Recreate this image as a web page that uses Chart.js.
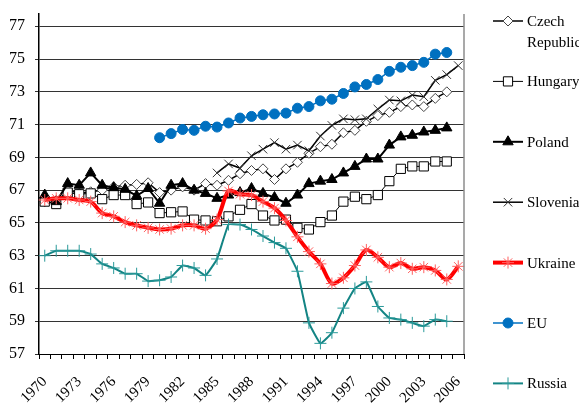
<!DOCTYPE html>
<html>
<head>
<meta charset="utf-8">
<script src="https://cdn.jsdelivr.net/npm/chart.js@4"></script>
<style>
  html, body { margin: 0; padding: 0; background: #fff; }
</style>
</head>
<body>
<canvas id="LifeChart" width="579" height="408"></canvas>
<script>
// categories
const years = [
  "1970", "1971", "1972", "1973", "1974", "1975", "1976", "1977", "1978", "1979",
  "1980", "1981", "1982", "1983", "1984", "1985", "1986", "1987", "1988", "1989",
  "1990", "1991", "1992", "1993", "1994", "1995", "1996", "1997", "1998", "1999",
  "2000", "2001", "2002", "2003", "2004", "2005", "2006"
];
const yTicks = [57, 59, 61, 63, 65, 67, 69, 71, 73, 75, 77];

// series values (null = no data)
const czech = [66.3, 66.2, 67.0, 66.8, 66.9, 67.0, 67.2, 67.3, 67.35, 67.45,
  66.85, 67.0, 67.2, 67.0, 67.4, 67.3, 67.6, 68.0, 68.2, 68.3,
  67.65, 68.3, 68.7, 69.25, 69.65, 69.8, 70.5, 70.65, 71.2, 71.55,
  71.75, 72.1, 72.2, 72.1, 72.6, 73.0, null];
const hungary = [66.3, 66.15, 66.85, 66.75, 66.8, 66.45, 66.7, 66.7, 66.15, 66.25,
  65.6, 65.65, 65.7, 65.2, 65.15, 65.1, 65.4, 65.8, 66.15, 65.45,
  65.15, 65.2, 64.7, 64.6, 65.05, 65.45, 66.3, 66.6, 66.45, 66.7,
  67.55, 68.3, 68.45, 68.45, 68.75, 68.75, null];
const poland = [66.7, 66.3, 67.4, 67.3, 68.05, 67.3, 67.15, 67.05, 66.65, 67.1,
  66.2, 67.3, 67.4, 67.0, 66.8, 66.5, 66.7, 66.85, 67.1, 66.8,
  66.55, 66.2, 66.7, 67.4, 67.55, 67.65, 68.05, 68.45, 68.9, 68.9,
  69.75, 70.25, 70.35, 70.55, 70.65, 70.8, null];
const slovenia = [null, null, null, null, null, null, null, null, null, null,
  null, null, null, null, null, 68.05, 68.6, 68.35, 69.1, 69.5,
  69.9, 69.5, 69.75, 69.4, 70.3, 70.95, 71.35, 71.3, 71.35, 71.95,
  72.5, 72.45, 72.8, 72.7, 73.7, 74.05, 74.6];
const ukraine = [66.4, 66.5, 66.5, 66.4, 66.3, 65.6, 65.4, 65.05, 64.85, 64.7,
  64.6, 64.65, 64.85, 64.85, 64.65, 65.2, 66.95, 66.75, 66.7, 66.3,
  65.9, 65.15, 64.15, 63.25, 62.5, 61.3, 61.65, 62.4, 63.35, 62.9,
  62.3, 62.55, 62.2, 62.3, 62.1, 61.55, 62.35];
const eu = [null, null, null, null, null, null, null, null, null, null,
  70.2, 70.45, 70.7, 70.65, 70.9, 70.85, 71.1, 71.4, 71.5, 71.6,
  71.65, 71.7, 72.0, 72.1, 72.45, 72.55, 72.9, 73.3, 73.45, 73.75,
  74.25, 74.5, 74.6, 74.8, 75.3, 75.4, null];
const russia = [63.0, 63.3, 63.3, 63.3, 63.1, 62.5, 62.25, 61.9, 61.9, 61.45,
  61.5, 61.7, 62.4, 62.25, 61.8, 62.8, 64.9, 64.9, 64.6, 64.2,
  63.8, 63.45, 62.05, 58.9, 57.65, 58.3, 59.8, 61.0, 61.4, 59.9,
  59.2, 59.1, 58.9, 58.7, 59.1, 59.0, null];

const serif = "'Liberation Serif', 'Times New Roman', serif";

function series(label, data, color, width, style, radius, fill, pointColor, tension, order) {
  return {
    label: label,
    data: data,
    borderColor: color,
    borderWidth: width,
    pointStyle: style,
    pointRadius: radius,
    pointBackgroundColor: fill,
    pointBorderColor: pointColor,
    pointBorderWidth: 1,
    tension: tension,
    spanGaps: false,
    fill: false,
    order: order,
    legendText: Array.isArray(label) ? label : [label]
  };
}

const datasets = [
  series(["Czech", "Republic"], czech, "#000", 1.5, "rectRot", 5, "#fff", "#444", 0, 7),
  series("Hungary", hungary, "#000", 1, "rect", 6.5, "#fff", "#000", 0, 6),
  series("Poland", poland, "#000", 2, "triangle", 6, "#000", "#000", 0, 5),
  series("Slovenia", slovenia, "#000", 1.5, "crossRot", 6, "#000", "#333", 0, 4),
  series("Ukraine", ukraine, "#ff0000", 4, "star", 6, "#ff6060", "#ff6060", 0.3, 3),
  series("EU", eu, "#0070c0", 1.5, "circle", 5, "#0070c0", "#0070c0", 0, 2),
  series("Russia", russia, "#138484", 2, "cross", 6, "#2a9a9a", "#2a9a9a", 0.1, 1)
];

// side legend: line sample + marker + text
const sideLegend = {
  id: 'sideLegend',
  afterDraw(chart) {
    const ctx = chart.ctx;
    const area = chart.chartArea;
    ctx.save();
    // right border of plot
    ctx.strokeStyle = '#8c8c8c';
    ctx.lineWidth = 1.5;
    ctx.beginPath();
    ctx.moveTo(area.right, area.top);
    ctx.lineTo(area.right, area.bottom);
    ctx.stroke();

    const x0 = area.right + 29;
    const x1 = x0 + 30;
    datasets.forEach((ds, i) => {
      const y = 21 + i * 60.4;
      ctx.strokeStyle = ds.borderColor;
      ctx.lineWidth = ds.borderWidth;
      ctx.beginPath();
      ctx.moveTo(x0, y);
      ctx.lineTo(x1, y);
      ctx.stroke();
      ctx.fillStyle = ds.pointBackgroundColor;
      ctx.strokeStyle = ds.pointBorderColor;
      ctx.lineWidth = 1;
      Chart.helpers.drawPoint(ctx, {
        pointStyle: ds.pointStyle,
        radius: ds.pointRadius,
        rotation: 0,
        borderWidth: 1
      }, (x0 + x1) / 2, y);
      ctx.fillStyle = '#000';
      ctx.font = "15px " + serif;
      ctx.textAlign = 'left';
      ctx.textBaseline = 'middle';
      ds.legendText.forEach((t, k) => ctx.fillText(t, x1 + 4, y + 1 + k * 21));
    });
    ctx.restore();
  }
};

new Chart(document.getElementById('LifeChart').getContext('2d'), {
  type: 'line',
  data: { labels: years, datasets: datasets },
  plugins: [sideLegend],
  options: {
    responsive: false,
    animation: false,
    layout: { padding: { top: 14, right: 115, bottom: 0, left: 0 } },
    plugins: { legend: { display: false }, tooltip: { enabled: false } },
    scales: {
      x: {
        type: 'category',
        offset: true,
        grid: { offset: true, drawOnChartArea: false, drawTicks: true, tickLength: 5, color: '#000' },
        border: { color: '#000', width: 1 },
        ticks: {
          autoSkip: false,
          minRotation: 45,
          maxRotation: 45,
          padding: 14,
          color: '#000',
          font: { family: serif, size: 15 },
          callback: (v, i) => (i % 3 === 0 ? years[i] : '')
        },
        afterFit: s => { s.height = 54; s.paddingLeft = 0; s.paddingRight = 0; }
      },
      y: {
        min: 57,
        max: 77.75,
        afterBuildTicks: s => { s.ticks = yTicks.map(v => ({ value: v })); },
        grid: { color: '#333', lineWidth: 1, tickLength: 4 },
        border: { color: '#000', width: 1.5 },
        ticks: { padding: 10, color: '#000', font: { family: serif, size: 16 } },
        afterFit: s => { s.width = 39; s.paddingTop = 0; s.paddingBottom = 0; }
      }
    }
  }
});
</script>
</body>
</html>
